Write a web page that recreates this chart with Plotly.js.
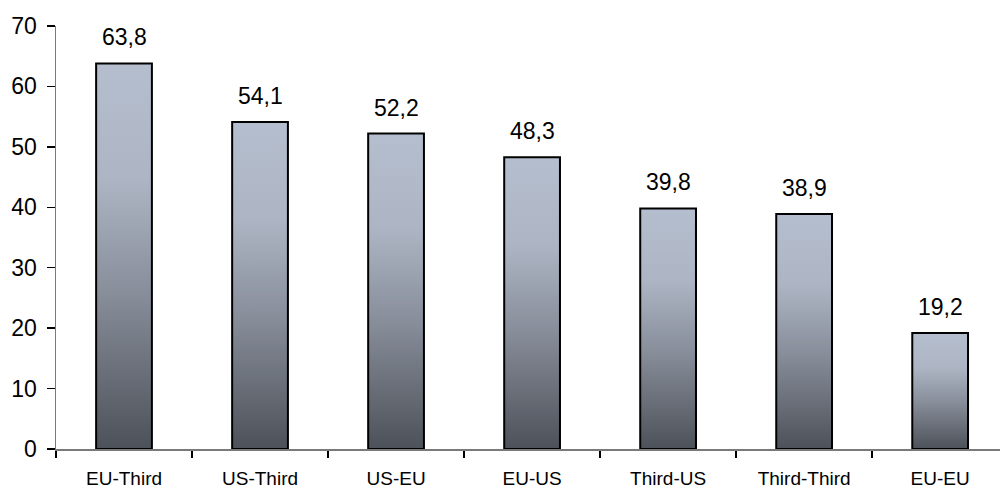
<!DOCTYPE html>
<html>
<head>
<meta charset="utf-8">
<script src="https://cdn.plot.ly/plotly-3.0.1.min.js"></script>
<style>
  html, body { margin: 0; padding: 0; background: #fff; }
  #chart { width: 1000px; height: 490px; }
</style>
</head>
<body>
<div id="chart"></div>
<script>
// Route pairs and their values
const routes = ['EU-Third', 'US-Third', 'US-EU', 'EU-US', 'Third-US', 'Third-Third', 'EU-EU'];
const values = [63.8, 54.1, 52.2, 48.3, 39.8, 38.9, 19.2];
const yTicks = [0, 10, 20, 30, 40, 50, 60, 70];

const fontFamily = '"Liberation Sans", Arial, sans-serif';

const trace = {
  type: 'bar',
  x: routes,
  y: values,
  width: 0.41,
  marker: { color: '#8e94a0', line: { color: '#000', width: 2 } },
  hoverinfo: 'x+y'
};

// Value labels sit above each bar
const labels = routes.map((r, i) => ({
  x: r,
  y: values[i],
  xref: 'x',
  yref: 'y',
  text: values[i].toFixed(1).replace('.', ','),
  showarrow: false,
  yanchor: 'bottom',
  yshift: 11,
  font: { family: fontFamily, size: 23, color: '#000' }
}));

const layout = {
  width: 1000,
  height: 490,
  margin: { l: 56, r: 0, t: 26, b: 41 },
  paper_bgcolor: '#fff',
  plot_bgcolor: '#fff',
  showlegend: false,
  separators: ',.',
  font: { family: fontFamily, color: '#000' },
  xaxis: {
    type: 'category',
    range: [-0.5, 6.44],
    showline: true,
    linecolor: '#7a7a7a',
    linewidth: 1.5,
    ticks: 'outside',
    tickson: 'boundaries',
    ticklen: 7,
    tickcolor: '#000',
    tickwidth: 1.5,
    showgrid: false,
    zeroline: false,
    tickfont: { family: fontFamily, size: 19, color: '#000' },
    ticklabelstandoff: 12,
    fixedrange: true
  },
  yaxis: {
    range: [0, 70],
    tickvals: yTicks,
    ticktext: yTicks.map(String),
    showline: true,
    linecolor: '#7a7a7a',
    linewidth: 1.5,
    ticks: 'outside',
    ticklen: 8,
    tickcolor: '#000',
    tickwidth: 1.5,
    showgrid: false,
    zeroline: false,
    tickfont: { family: fontFamily, size: 23, color: '#000' },
    ticklabelstandoff: 5,
    fixedrange: true
  },
  annotations: labels
};

// Vertical light-to-dark fill applied to every bar
function applyGradient(gd) {
  const svg = gd.querySelector('svg.main-svg');
  if (!svg) return;
  const ns = 'http://www.w3.org/2000/svg';
  let defs = svg.querySelector('defs');
  if (!defs) { defs = document.createElementNS(ns, 'defs'); svg.insertBefore(defs, svg.firstChild); }
  if (!svg.querySelector('#barShade')) {
    const g = document.createElementNS(ns, 'linearGradient');
    g.setAttribute('id', 'barShade');
    g.setAttribute('x1', '0'); g.setAttribute('y1', '0');
    g.setAttribute('x2', '0'); g.setAttribute('y2', '1');
    [[0, '#b5bece'], [0.3, '#adb5c4'], [0.6, '#878d99'], [1, '#4d5159']].forEach(([o, c]) => {
      const s = document.createElementNS(ns, 'stop');
      s.setAttribute('offset', o);
      s.setAttribute('stop-color', c);
      g.appendChild(s);
    });
    defs.appendChild(g);
  }
  gd.querySelectorAll('.trace.bars .point path').forEach(p => {
    p.style.fill = 'url(#barShade)';
  });
}

const gd = document.getElementById('chart');
Plotly.newPlot(gd, [trace], layout, { displayModeBar: false, staticPlot: true }).then(() => {
  applyGradient(gd);
  gd.on('plotly_afterplot', () => applyGradient(gd));
});
</script>
</body>
</html>
